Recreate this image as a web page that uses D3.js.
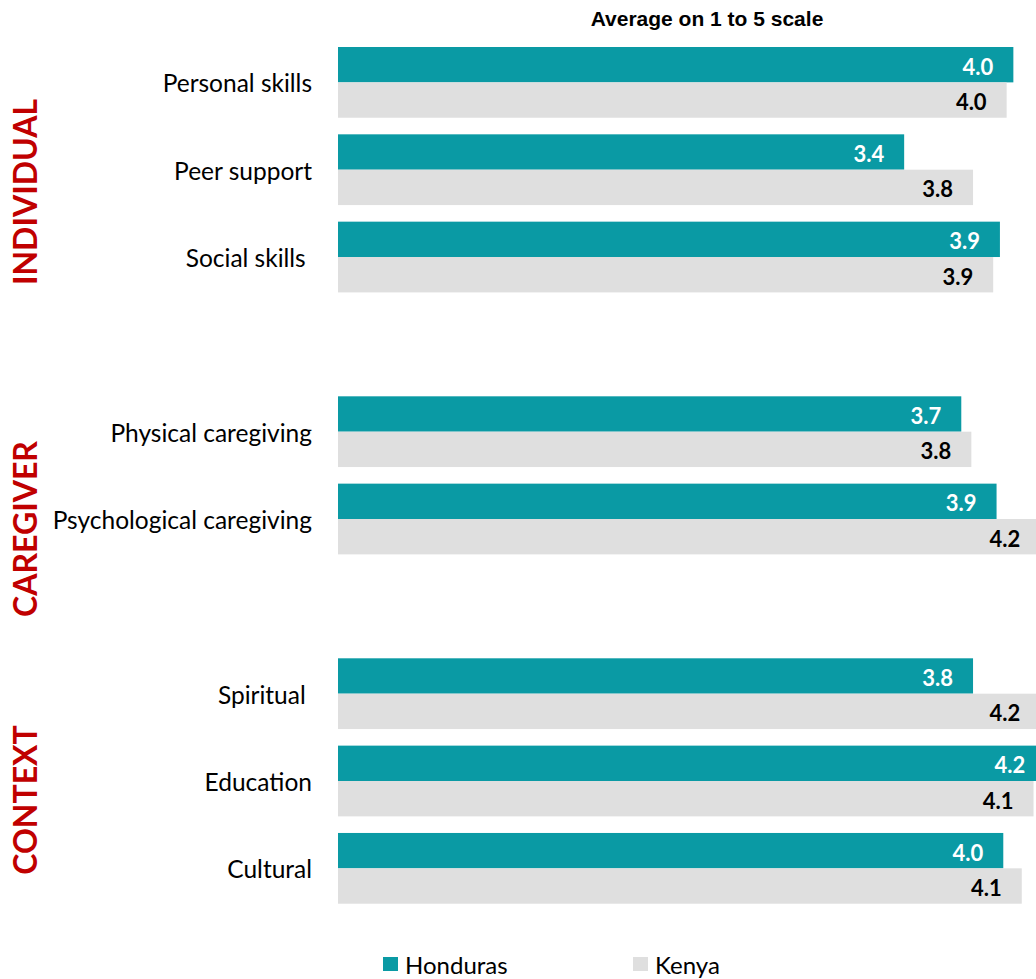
<!DOCTYPE html>
<html>
<head>
<meta charset="utf-8">
<title>Average on 1 to 5 scale</title>
<style>
  body { margin: 0; background: #fff; }
  svg { display: block; }
</style>
</head>
<body>
<svg width="1036" height="979"></svg>
<script src="https://cdn.jsdelivr.net/npm/d3@7"></script>
<script>
// categories top to bottom, "gap" rows are empty spacers between groups
var categories = ['Personal skills', 'Peer support', 'Social skills ', 'gap1',
                  'Physical caregiving', 'Psychological caregiving', 'gap2',
                  'Spiritual ', 'Education', 'Cultural'];
var series = ['Honduras', 'Kenya'];
var honduras = [4.02, 3.37, 3.94, null, 3.71, 3.92, null, 3.78, 4.21, 3.96];
var kenya    = [3.98, 3.78, 3.90, null, 3.77, 4.18, null, 4.18, 4.14, 4.07];
var groups = ['INDIVIDUAL', 'CAREGIVER', 'CONTEXT'];
var groupY = [192, 529, 800];
var colors = ['#0A9AA4', '#DFDFDF'];
var labelColors = ['#ffffff', '#000000'];

var svg = d3.select('svg');
var labelFont = 'Lato, "Open Sans", sans-serif';

var x = d3.scaleLinear().domain([0, 5]).range([338, 338 + 5 * 168]);
var y = d3.scaleBand().domain(categories).range([47, 903.7]).paddingInner(0.19);
var ySub = d3.scaleBand().domain(series).range([0, y.bandwidth()]);
var fmt = d3.format('.1f');

var rows = [];
categories.forEach(function(c, i) {
  if (honduras[i] == null) return;
  rows.push({cat: c, s: 0, v: honduras[i]});
  rows.push({cat: c, s: 1, v: kenya[i]});
});

svg.append('text')
  .text('Average on 1 to 5 scale')
  .attr('x', 707).attr('y', 26)
  .attr('text-anchor', 'middle')
  .attr('font-family', 'Arial, "Liberation Sans", sans-serif')
  .attr('font-weight', 'bold')
  .attr('font-size', '21px')
  .attr('fill', '#000');

svg.selectAll('rect.bar')
  .data(rows)
  .enter()
  .append('rect')
  .attr('class', 'bar')
  .attr('x', x(0))
  .attr('y', function(d) { return y(d.cat) + ySub(series[d.s]); })
  .attr('width', function(d) { return x(d.v) - x(0); })
  .attr('height', ySub.bandwidth())
  .attr('fill', function(d) { return colors[d.s]; });

svg.selectAll('text.val')
  .data(rows)
  .enter()
  .append('text')
  .attr('class', 'val')
  .text(function(d) { return fmt(d.v); })
  .attr('x', function(d) { return x(d.v) - 20; })
  .attr('y', function(d) { return y(d.cat) + ySub(series[d.s]) + ySub.bandwidth() / 2 + 10; })
  .attr('text-anchor', 'end')
  .attr('font-family', labelFont)
  .attr('font-weight', 'bold')
  .attr('font-size', '22px')
  .attr('fill', function(d) { return labelColors[d.s]; });

svg.selectAll('text.cat')
  .data(categories.filter(function(c) { return c.indexOf('gap') != 0; }))
  .enter()
  .append('text')
  .attr('class', 'cat')
  .text(function(d) { return d; })
  .attr('x', 312)
  .attr('y', function(d) { return y(d) + y.bandwidth() / 2 + 10; })
  .attr('text-anchor', 'end')
  .style('white-space', 'pre')
  .attr('font-family', labelFont)
  .attr('font-size', '24.5px')
  .attr('fill', '#000');

svg.selectAll('text.grp')
  .data(groups)
  .enter()
  .append('text')
  .attr('class', 'grp')
  .text(function(d) { return d; })
  .attr('transform', function(d, i) { return 'translate(37,' + groupY[i] + ') rotate(-90)'; })
  .attr('text-anchor', 'middle')
  .attr('font-family', labelFont)
  .attr('font-weight', 'bold')
  .attr('font-size', '32px')
  .attr('fill', '#C00000');

// legend
var legX = [383, 633];
var leg = svg.selectAll('g.leg')
  .data(series)
  .enter()
  .append('g')
  .attr('class', 'leg')
  .attr('transform', function(d, i) { return 'translate(' + legX[i] + ',957)'; });
leg.append('rect')
  .attr('width', 15).attr('height', 14)
  .attr('fill', function(d, i) { return colors[i]; });
leg.append('text')
  .text(function(d) { return d; })
  .attr('x', 22).attr('y', 17)
  .attr('font-family', labelFont)
  .attr('font-size', '24px')
  .attr('fill', '#000');
</script>
</body>
</html>
